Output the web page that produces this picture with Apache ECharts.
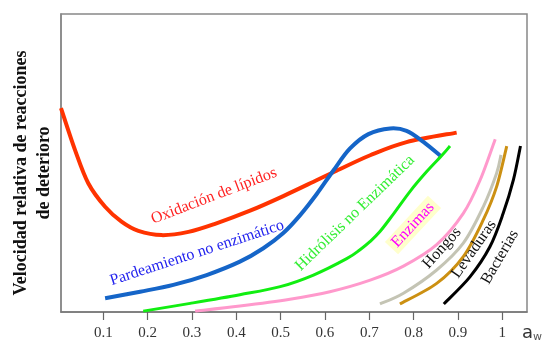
<!DOCTYPE html>
<html><head><meta charset="utf-8">
<script src="https://cdn.jsdelivr.net/npm/echarts@6/dist/echarts.min.js"></script>
<style>html,body{margin:0;padding:0;background:#fff}#c{width:550px;height:355px}</style>
</head><body><div id="c"></div>
<script>
// tick labels
var xTicks = [0.1, 0.2, 0.3, 0.4, 0.5, 0.6, 0.7, 0.8, 0.9, 1];
// series (x = water activity, y = relative rate 0..100)
var oxidacion = [[0.0045,68.4],[0.036,54.4],[0.066,43.2],[0.104,35.3],[0.141,30.3],[0.179,27.2],[0.232,25.8],[0.292,26.9],[0.352,29.6],[0.431,34.0],[0.506,38.9],[0.581,44.2],[0.626,47.4],[0.702,52.6],[0.784,57.0],[0.897,60.2]];
var pardeamiento = [[0.104,4.6],[0.183,6.8],[0.258,9.1],[0.333,12.4],[0.408,16.9],[0.461,21.4],[0.506,26.5],[0.544,32.5],[0.581,39.5],[0.619,47.5],[0.656,54.8],[0.698,59.7],[0.747,61.6],[0.784,60.8],[0.822,57.1],[0.863,52.1]];
var hidrolisis = [[0.190,0.3],[0.296,2.9],[0.408,5.8],[0.499,8.5],[0.574,12.4],[0.649,17.9],[0.679,20.9],[0.702,23.7],[0.724,27.0],[0.753,32.6],[0.792,40.5],[0.830,47.2],[0.866,52.9],[0.882,55.7]];
var enzimas = [[0.307,0.3],[0.408,2.0],[0.521,4.3],[0.611,6.8],[0.702,10.7],[0.777,15.4],[0.852,22.6],[0.912,33.1],[0.950,44.3],[0.984,58.0]];
var hongos = [[0.724,2.7],[0.777,6.3],[0.852,14.1],[0.912,23.1],[0.957,35.3],[0.987,46.5],[0.997,52.7]];
var levaduras = [[0.769,2.7],[0.852,9.6],[0.912,18.6],[0.957,30.9],[0.987,42.0],[1.010,55.7]];
var bacterias = [[0.868,2.7],[0.927,11.8],[0.972,21.9],[1.002,33.1],[1.025,44.3],[1.041,55.7]];

var chart = echarts.init(document.getElementById('c'), null, {renderer:'canvas'});
// Catmull-Rom spline through the data points, positioned via the chart's axes (api.coord)
function curve(name, arr, color, w){
  return {name:name, type:'custom', data:arr, silent:true, z:2,
    encode:{x:0, y:1},
    renderItem:function(params, api){
      if (params.dataIndex !== 0) return null;
      var p = arr.map(function(d){ return api.coord(d); });
      var path = 'M' + p[0][0] + ' ' + p[0][1];
      for (var i = 0; i < p.length - 1; i++){
        var p0 = p[i-1] || p[i], p1 = p[i], p2 = p[i+1], p3 = p[i+2] || p[i+1];
        var c1x = p1[0] + (p2[0]-p0[0])/6, c1y = p1[1] + (p2[1]-p0[1])/6;
        var c2x = p2[0] - (p3[0]-p1[0])/6, c2y = p2[1] - (p3[1]-p1[1])/6;
        path += ' C' + c1x + ' ' + c1y + ' ' + c2x + ' ' + c2y + ' ' + p2[0] + ' ' + p2[1];
      }
      return {type:'path', shape:{pathData:path},
        style:{fill:'none', stroke:color, lineWidth:w, lineCap:'butt', lineJoin:'round'}};
    }};
}
var serif = 'Liberation Serif';
function lbl(text, x, y, deg, color, size, extra){
  var st = {text:text, fill:color, font: size+'px "'+serif+'"', align:'center', verticalAlign:'middle'};
  if (extra) for (var k in extra) st[k]=extra[k];
  return {type:'text', x:x, y:y, rotation:deg*Math.PI/180, style:st, z:10, silent:true};
}
chart.setOption({
  animation:false,
  grid:{left:61, top:14, right:23, bottom:43, show:true, borderColor:'#888', borderWidth:1.5, backgroundColor:'#fff'},
  xAxis:{type:'value', min:0.0045, max:1.0557,
    axisLine:{show:true, lineStyle:{color:'#777', width:1.5}},
    axisTick:{show:true, customValues:xTicks, length:8, lineStyle:{color:'#666', width:1.2}},
    axisLabel:{customValues:xTicks, margin:14, color:'#333', fontFamily:serif, fontSize:15,
      formatter:function(v){return v===1?'1':v.toFixed(1);}},
    splitLine:{show:false}},
  yAxis:{type:'value', min:0, max:100, axisLine:{show:true, lineStyle:{color:'#888', width:1.5}},
    axisTick:{show:false}, axisLabel:{show:false}, splitLine:{show:false}},
  series:[
    curve('Oxidación de lípidos', oxidacion, '#ff3300', 4),
    curve('Pardeamiento no enzimático', pardeamiento, '#1565c8', 4),
    curve('Hidrólisis no Enzimática', hidrolisis, '#11ee11', 3),
    curve('Enzimas', enzimas, '#ff99cc', 3),
    curve('Hongos', hongos, '#c4c4b4', 3),
    curve('Levaduras', levaduras, '#cc9012', 3),
    curve('Bacterias', bacterias, '#000000', 3)
  ],
  graphic:[
    {type:'text', x:33, y:173, rotation:Math.PI/2, z:10,
      style:{text:'Velocidad relativa de reacciones\nde deterioro', fill:'#111', font:'bold 18px "'+serif+'"', align:'center', verticalAlign:'middle', lineHeight:23}},
    lbl('Oxidación de lípidos', 214, 196, 21, '#ff2222', 16),
    lbl('Pardeamiento no enzimático', 197, 253, 18, '#2222ee', 16),
    lbl('Hidrólisis no Enzimática', 355, 213, 44, '#33ee33', 16),
    lbl('Enzimas', 413, 225, 47, '#ff00ff', 16, {backgroundColor:'#ffffcc', padding:[1,4,1,4]}),
    lbl('Hongos', 442, 248, 48, '#111', 16),
    lbl('Levaduras', 474, 249, 55, '#111', 16),
    lbl('Bacterias', 500, 257, 60, '#111', 16),
    {type:'text', x:522, y:333, z:10,
      style:{text:'{a|a}{w|w}', verticalAlign:'middle', align:'left',
        rich:{a:{fill:'#333', font:'18px "DejaVu Sans"'}, w:{fill:'#555', font:'11px "DejaVu Sans"', padding:[9,0,0,0]}}}}
  ]
});
</script></body></html>
